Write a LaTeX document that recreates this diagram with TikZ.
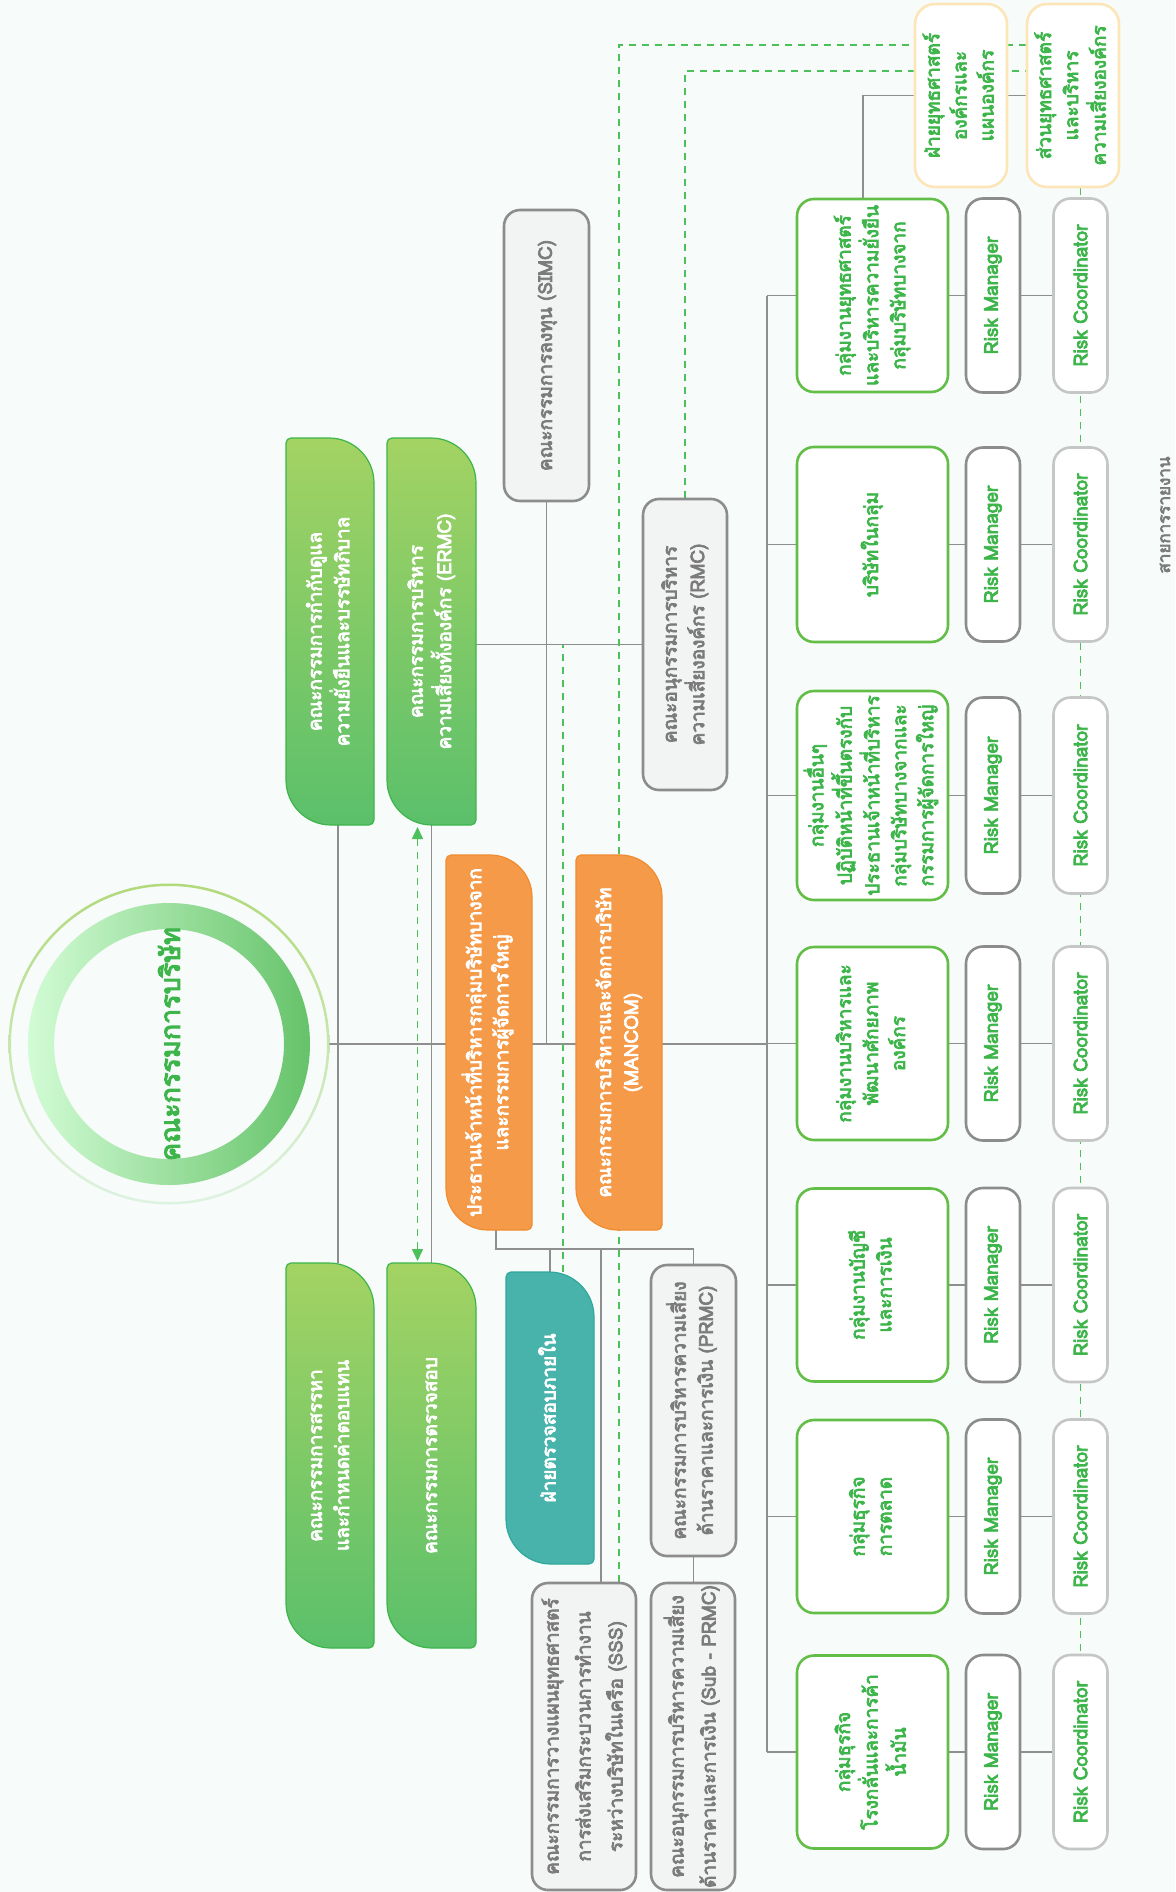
\documentclass[tikz,border=0pt]{standalone}
\usepackage{fontspec}
\setmainfont[Script=Thai, FakeBold=4]{Loma}
\usepackage{graphicx}
\usetikzlibrary{calc,arrows.meta}

\definecolor{bgmint}{HTML}{F7FBFA}
\definecolor{bcgreen}{HTML}{3DB54A}
\definecolor{lightgreen}{HTML}{A3D363}
\definecolor{deepgreen}{HTML}{5BC06B}
\definecolor{unitedge}{HTML}{63BE48}
\definecolor{orangefill}{HTML}{F59A48}
\definecolor{orangeedge}{HTML}{F08C30}
\definecolor{tealfill}{HTML}{48B3AA}
\definecolor{tealedge}{HTML}{30A89D}
\definecolor{greyedge}{HTML}{8C8C8C}
\definecolor{greyfill}{HTML}{F2F3F3}
\definecolor{greytext}{HTML}{7B7B7B}
\definecolor{paleedge}{HTML}{C5C6C6}
\definecolor{creamedge}{HTML}{FCE6B8}
\definecolor{linkgrey}{HTML}{8E8E8E}
\definecolor{dashgreen}{HTML}{4CC05A}

\pgfdeclarelayer{bg}
\pgfdeclarelayer{deco}
\pgfsetlayers{bg,deco,main}

\newcommand\vlines[1]{\rotatebox{90}{\begin{tabular}{@{}c@{}}#1\end{tabular}}}
\newcommand\leaf[3]{%
  \path[#3] ($(#1.north west)+(5,0)$) -- ($(#1.north east)+(-#2,0)$)
    arc[start angle=90,end angle=0,radius=#2] -- ($(#1.south east)+(0,5)$)
    arc[start angle=0,end angle=-90,radius=5] -- ($(#1.south west)+(#2,0)$)
    arc[start angle=270,end angle=180,radius=#2] -- ($(#1.north west)+(0,-5)$)
    arc[start angle=180,end angle=90,radius=5] -- cycle;}

\tikzset{
  textset/.style={font=\fontsize{19}{27}\selectfont},
  leafnode/.style={textset, text=white, inner sep=0pt, outer sep=0pt, minimum width=88pt},
  greenleaf/.style={draw=bcgreen, line width=1.2pt, top color=lightgreen, bottom color=deepgreen},
  orangeleaf/.style={draw=orangeedge, line width=1.2pt, fill=orangefill},
  tealleaf/.style={draw=tealedge, line width=1.2pt, fill=tealfill},
  unitbox/.style={textset, draw=unitedge, line width=2.6pt, fill=white, rounded corners=17pt, text=bcgreen, minimum width=151pt, minimum height=193pt, inner sep=0pt},
  mgrbox/.style={textset, draw=greyedge, line width=2.6pt, fill=white, rounded corners=17pt, text=bcgreen, minimum width=54pt, minimum height=194pt, inner sep=0pt},
  coordbox/.style={mgrbox, draw=paleedge},
  greybox/.style={textset, draw=greyedge, line width=2.6pt, fill=greyfill, rounded corners=16pt, text=greytext, minimum width=85pt, minimum height=291pt, inner sep=0pt},
  creambox/.style={textset, draw=creamedge, line width=2.6pt, fill=white, rounded corners=20pt, text=bcgreen, minimum width=92pt, minimum height=183pt, inner sep=0pt},
  linkline/.style={draw=linkgrey, line width=1.4pt},
  dashlink/.style={draw=dashgreen, line width=1.4pt, dash pattern=on 7pt off 6pt},
}

\begin{document}
\begin{tikzpicture}[x=1pt,y=1pt]
        \useasboundingbox (0,0) rectangle (1175,-1892);
        \clip (0,0) rectangle (1175,-1892);

        \node[circle, minimum size=320pt, inner sep=0pt, text=bcgreen, font=\fontsize{27}{32}\selectfont] (board) at (169,-1044) {\rotatebox{90}{คณะกรรมการบริษัท}};

        \node[leafnode, minimum height=387pt] (gov) at (330,-631.5) {\vlines{คณะกรรมการกำกับดูแล\\ความยั่งยืนและบรรษัทภิบาล}};
        \node[leafnode, minimum height=387pt, minimum width=89pt] (ermc) at (431.5,-631.5) {\vlines{คณะกรรมการบริหาร\\ความเสี่ยงทั้งองค์กร (ERMC)}};
        \node[leafnode, minimum height=385pt] (nom) at (330,-1455.5) {\vlines{คณะกรรมการสรรหา\\และกำหนดค่าตอบแทน}};
        \node[leafnode, minimum height=385pt, minimum width=89pt] (audit) at (431.5,-1455.5) {\vlines{คณะกรรมการตรวจสอบ}};
        \node[leafnode, minimum width=86pt, minimum height=375pt] (ceo) at (489,-1042.5) {\vlines{ประธานเจ้าหน้าที่บริหารกลุ่มบริษัทบางจาก\\และกรรมการผู้จัดการใหญ่}};
        \node[leafnode, minimum width=86pt, minimum height=375pt] (mancom) at (619,-1042.5) {\vlines{คณะกรรมการบริหารและจัดการบริษัท\\(MANCOM)}};
        \node[leafnode, minimum height=292pt] (inaudit) at (550,-1418) {\vlines{ฝ่ายตรวจสอบภายใน}};

        \node[greybox] (simc) at (546.5,-355.5) {\vlines{คณะกรรมการลงทุน (SIMC)}};
        \node[greybox, minimum width=84pt] (rmc) at (685,-644.5) {\vlines{คณะอนุกรรมการบริหาร\\ความเสี่ยงองค์กร (RMC)}};
        \node[greybox] (prmc) at (693.5,-1410.5) {\vlines{คณะกรรมการบริหารความเสี่ยง\\ด้านราคาและการเงิน (PRMC)}};
        \node[greybox, minimum width=104pt, minimum height=307pt, font=\fontsize{19}{32}\selectfont] (sss) at (584,-1736.5) {\vlines{คณะกรรมการวางแผนยุทธศาสตร์\\การส่งเสริมกระบวนการทำงาน\\ระหว่างบริษัทในเครือ (SSS)}};
        \node[greybox, minimum width=84pt, minimum height=307pt, font=\fontsize{19}{32}\selectfont] (subprmc) at (693,-1736.5) {\vlines{คณะอนุกรรมการบริหารความเสี่ยง\\ด้านราคาและการเงิน (Sub - PRMC)}};

        \node[creambox] (stratdept) at (961,-95.5) {\vlines{ฝ่ายยุทธศาสตร์\\องค์กรและ\\แผนองค์กร}};
        \node[creambox] (stratrisk) at (1073,-95.5) {\vlines{ส่วนยุทธศาสตร์\\และบริหาร\\ความเสี่ยงองค์กร}};

        \node[unitbox] (grpstrat) at (872.5,-295.5) {\vlines{กลุ่มงานยุทธศาสตร์\\และบริหารความยั่งยืน\\กลุ่มบริษัทบางจาก}};
        \node[unitbox, minimum height=195pt] (grpsub) at (872.5,-544.5) {\vlines{บริษัทในกลุ่ม}};
        \node[unitbox, minimum height=209pt] (grpother) at (872.5,-795.5) {\vlines{กลุ่มงานอื่นๆ\\ปฏิบัติหน้าที่ขึ้นตรงกับ\\ประธานเจ้าหน้าที่บริหาร\\กลุ่มบริษัทบางจากและ\\กรรมการผู้จัดการใหญ่}};
        \node[unitbox] (grphr) at (872.5,-1043.5) {\vlines{กลุ่มงานบริหารและ\\พัฒนาศักยภาพ\\องค์กร}};
        \node[unitbox] (grpfin) at (872.5,-1285) {\vlines{กลุ่มงานบัญชี\\และการเงิน}};
        \node[unitbox] (grpmkt) at (872.5,-1516.5) {\vlines{กลุ่มธุรกิจ\\การตลาด}};
        \node[unitbox] (grpref) at (872.5,-1752) {\vlines{กลุ่มธุรกิจ\\โรงกลั่นและการค้า\\น้ำมัน}};

        \node[mgrbox] (mgrstrat) at (993,-295.5) {\rotatebox{90}{Risk Manager}};
        \node[mgrbox] (mgrsub) at (993,-544.5) {\rotatebox{90}{Risk Manager}};
        \node[mgrbox, minimum height=196pt] (mgrother) at (993,-795.5) {\rotatebox{90}{Risk Manager}};
        \node[mgrbox] (mgrhr) at (993,-1043.5) {\rotatebox{90}{Risk Manager}};
        \node[mgrbox] (mgrfin) at (993,-1285) {\rotatebox{90}{Risk Manager}};
        \node[mgrbox] (mgrmkt) at (993,-1516.5) {\rotatebox{90}{Risk Manager}};
        \node[mgrbox] (mgrref) at (993,-1752) {\rotatebox{90}{Risk Manager}};

        \node[coordbox] (coordstrat) at (1080.5,-295.5) {\rotatebox{90}{Risk Coordinator}};
        \node[coordbox] (coordsub) at (1080.5,-544.5) {\rotatebox{90}{Risk Coordinator}};
        \node[coordbox, minimum height=196pt] (coordother) at (1080.5,-795.5) {\rotatebox{90}{Risk Coordinator}};
        \node[coordbox] (coordhr) at (1080.5,-1043.5) {\rotatebox{90}{Risk Coordinator}};
        \node[coordbox] (coordfin) at (1080.5,-1285) {\rotatebox{90}{Risk Coordinator}};
        \node[coordbox] (coordmkt) at (1080.5,-1516.5) {\rotatebox{90}{Risk Coordinator}};
        \node[coordbox] (coordref) at (1080.5,-1752) {\rotatebox{90}{Risk Coordinator}};

        \node[text=greytext, font=\fontsize{17}{20}\selectfont] (legend) at (1165,-515) {\rotatebox{90}{สายการรายงาน}};

        \begin{pgfonlayer}{deco}
        \shade[left color=green!15!bgmint, right color=deepgreen!85!lightgreen, even odd rule] (board.center) circle[radius=141] (board.center) circle[radius=115];
        \shade[top color=lightgreen!85!white, bottom color=deepgreen!20!white, even odd rule] (board.center) circle[radius=160.5] (board.center) circle[radius=158];
        \leaf{gov}{45}{greenleaf}
        \leaf{ermc}{45}{greenleaf}
        \leaf{nom}{45}{greenleaf}
        \leaf{audit}{45}{greenleaf}
        \leaf{ceo}{42}{orangeleaf}
        \leaf{mancom}{42}{orangeleaf}
        \leaf{inaudit}{45}{tealleaf}
        \end{pgfonlayer}

        \begin{pgfonlayer}{bg}
        \fill[bgmint] (0,0) rectangle (1175,-1892);
        \coordinate (bus) at (767,-295.5);
        \coordinate (ceojoin) at (496,-1249);
        \coordinate (auditdash) at (563,-644.5);

        \draw[linkline] (board.east) -- (board.east -| bus);
        \draw[linkline] ($(gov.south)+(8,0)$) -- ($(nom.north)+(8,0)$);
        \draw[linkline] (ermc.south) -- (audit.north);
        \draw[dashlink, {Triangle[length=12pt,width=11pt]}-{Triangle[length=12pt,width=11pt]}] ($(ermc.south)+(-14,-2)$) -- ($(audit.north)+(-14,2)$);
        \draw[linkline] (ermc.east |- rmc.west) -- (rmc.west);
        \draw[linkline] (simc.south) -- (simc.south |- board.east);
        \draw[dashlink] (inaudit.north -| auditdash) -- (auditdash);
        \draw[linkline] (ceo.south -| ceojoin) -- (ceojoin) -| (prmc.north);
        \draw[linkline] (inaudit.north |- ceojoin) -- (inaudit.north);
        \draw[linkline] (ceojoin -| 601,0) -- (sss.north -| 601,0);
        \draw[linkline] (prmc.south) -- (prmc.south |- subprmc.north);

        \draw[dashlink] (sss.north -| mancom) |- ([yshift=50.5pt]stratrisk.west);
        \draw[dashlink] (rmc.north) |- ([yshift=24.5pt]stratrisk.west);
        \draw[linkline] (grpstrat.north -| 863,0) |- (stratdept.west);
        \draw[linkline] (stratdept.east) -- (stratrisk.west);
        \draw[dashlink] (stratrisk.south -| coordstrat) -- (coordref.north);

        \draw[linkline] (grpstrat.west -| bus) -- (grpref.west -| bus);
        \draw[linkline] (grpstrat.west -| bus) -- (grpstrat.west);
        \draw[linkline] (grpsub.west -| bus) -- (grpsub.west);
        \draw[linkline] (grpother.west -| bus) -- (grpother.west);
        \draw[linkline] (grphr.west -| bus) -- (grphr.west);
        \draw[linkline] (grpfin.west -| bus) -- (grpfin.west);
        \draw[linkline] (grpmkt.west -| bus) -- (grpmkt.west);
        \draw[linkline] (grpref.west -| bus) -- (grpref.west);

        \draw[linkline] (grpstrat.east) -- (mgrstrat.west);
        \draw[linkline] (grpsub.east) -- (mgrsub.west);
        \draw[linkline] (grpother.east) -- (mgrother.west);
        \draw[linkline] (grphr.east) -- (mgrhr.west);
        \draw[linkline] (grpfin.east) -- (mgrfin.west);
        \draw[linkline] (grpmkt.east) -- (mgrmkt.west);
        \draw[linkline] (grpref.east) -- (mgrref.west);

        \draw[linkline] (mgrstrat.east) -- (coordstrat.west);
        \draw[linkline] (mgrsub.east) -- (coordsub.west);
        \draw[linkline] (mgrother.east) -- (coordother.west);
        \draw[linkline] (mgrhr.east) -- (coordhr.west);
        \draw[linkline] (mgrfin.east) -- (coordfin.west);
        \draw[linkline] (mgrmkt.east) -- (coordmkt.west);
        \draw[linkline] (mgrref.east) -- (coordref.west);
        \end{pgfonlayer}
      \end{tikzpicture}
\end{document}
